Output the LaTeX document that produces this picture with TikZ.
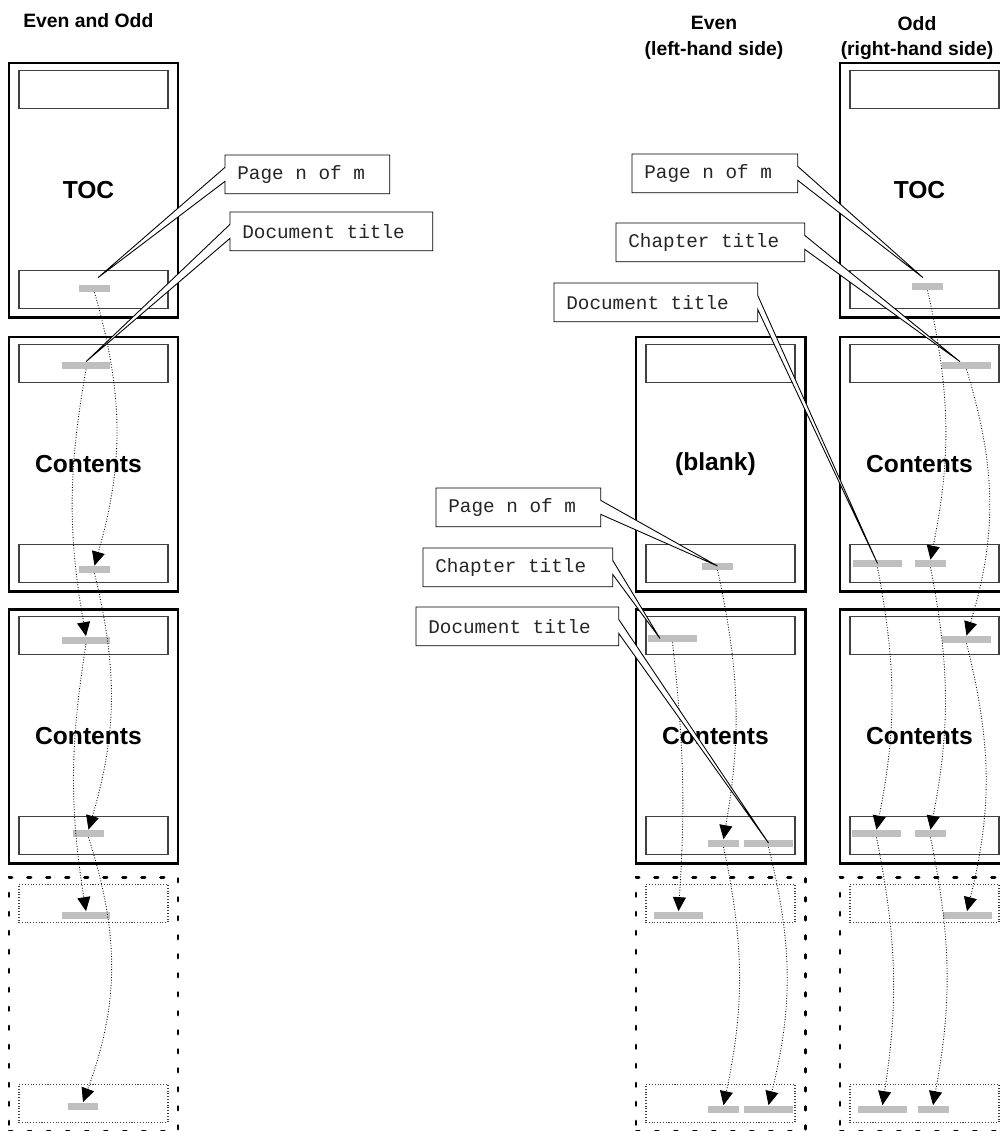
\documentclass[tikz,border=0pt]{standalone}
\usepackage{fontspec}
\setsansfont{Liberation Sans}
\setmonofont{Liberation Mono}
\usepackage{tikz}
\usetikzlibrary{
  positioning,
  arrows.meta,
  calc
}
\newcommand{\callfont}{\ttfamily\fontsize{11}{13}\selectfont\spaceskip=0.6em\relax}
\tikzset{
  >=Latex,
  page/.style={draw,line width=1.7pt,minimum width=33.8mm,minimum height=50.8mm,inner sep=0pt},
  pagedash/.style={page,line cap=round,dash pattern=on 0.7mm off 3.1mm},
  pagelabel/.style={font=\sffamily\bfseries\fontsize{14}{16}\selectfont,inner sep=0pt},
  hdrbox/.style={draw=black!75,line width=0.6pt,minimum width=29.8mm,minimum height=7.6mm,inner sep=0pt},
  hdrdot/.style={hdrbox,densely dotted},
  bar/.style={fill=black!25,inner sep=0pt,minimum height=1.4mm,minimum width=#1*0.2mm},
  flowarrow/.style={densely dotted,line width=0.5pt,-{Triangle[length=2.8mm,width=2.6mm]}},
  callbox/.style={fill=white,anchor=north west,font=\callfont,text=black!85,
    execute at begin node={\hbox to #1\bgroup},execute at end node={\hfil\egroup},
    inner xsep=2.4mm,inner ysep=0pt,minimum height=7.6mm},
  callline/.style={draw,line width=0.5pt,line join=miter},
  heading/.style={font=\sffamily\bfseries\fontsize{11}{14.6}\selectfont,align=center,inner sep=0pt}
}

\begin{document}
\begin{tikzpicture}[x=0.2mm,y=-0.2mm]
    \useasboundingbox (0,0) rectangle (1000,1131);
    \clip (0,0) rectangle (1000,1131);

    % Titulos de las columnas
    \node[heading,anchor=base west] (titAmbas) at (23,27) {Even and Odd};
    \node[heading] (titPar) at (714,38) {Even\\(left-hand side)};
    \node[heading] (titImpar) at (917,38) {Odd\\(right-hand side)};

    % Paginas (borde grueso)
    \foreach \n/\x/\y/\t in {L1/93.5/190/TOC, L2/93.5/464/Contents, L3/93.5/736/Contents,
        E1/720.5/464/(blank), E2/720.5/736/Contents,
        O1/924.5/190/TOC, O2/924.5/464/Contents, O3/924.5/736/Contents} {
      \node[page] (\n) at (\x,\y) {};
      \node[pagelabel] (\n-lbl) at ([xshift=-1mm]\n.center) {\t};
      \node[hdrbox] (\n-hd) at ($(\n.north)+(0,28)$) {};
      \node[hdrbox] (\n-ft) at ($(\n.south)+(0,-29)$) {};
    }

    % Paginas siguientes (punteadas)
    \foreach \n/\x in {L4/93.5, E3/720.5, O4/924.5} {
      \node[pagedash] (\n) at (\x,1004) {};
      \node[hdrdot] (\n-hd) at ($(\n.north)+(0,28)$) {};
      \node[hdrdot] (\n-ft) at ($(\n.south)+(0,-29)$) {};
    }

    % Barras grises (titulos y numeros de pagina)
    \foreach \n/\x/\y/\w in {L1f/94.5/288.5/31, L2h/86/365.5/48, L2f/94.5/569.5/31,
        L3h/86/640/48, L3f/88.5/833.5/31, L4h/86/915/48, L4f/83/1106/30,
        E1f/717.5/566/31, E2h/672.5/638.5/49, E2fa/723.5/843/31, E2fb/768.5/843/49,
        E3h/678.5/915/49, E3fa/723.5/1109/31, E3fb/768.5/1109/49,
        O1f/927.5/286.5/31, O2h/966.5/365.5/49, O2fa/877.5/563.5/49, O2fb/930.5/563.5/31,
        O3h/966.5/639.5/49, O3fa/876.5/833.5/49, O3fb/930.5/833.5/31,
        O4h/967/915/49, O4fa/882.5/1109/49, O4fb/933/1109/31}
      \node[bar=\w] (\n) at (\x,\y) {};

    % Flujo de una pagina a la siguiente
    \foreach \a/\b/\s in {L1f/L2f/16, L2h/L3h/-10, L2f/L3f/15, L3h/L4h/-9, L3f/L4f/19,
        E1f/E2fa/11, E2h/E3h/5, E2fa/E3fa/12, E2fb/E3fb/14,
        O1f/O2fb/12, O2h/O3h/17, O2fa/O3fa/11, O2fb/O3fb/11,
        O3h/O4h/14, O3fa/O4fa/10, O3fb/O4fb/11}
      \draw[flowarrow] (\a.south) to[bend left=\s] (\b.north);

    % Puntas de las llamadas
    \coordinate (tipL1) at ($(L1f.north)+(3.5,-7)$);
    \coordinate (tipL2) at (L2h.north);
    \coordinate (tipO1) at ($(O1f.north)+(-4.5,-5)$);
    \coordinate (tipO2) at ($(O2h.north)+(-6.5,0)$);
    \coordinate (tipO3) at (O2fa.center);
    \coordinate (tipE1) at (E1f.center);
    \coordinate (tipE2) at ($(E2h.center)+(-12.5,0)$);
    \coordinate (tipE3) at (E2fb.center);

    % Llamadas
    \node[callbox=28mm] (cL1) at (225,155) {Page n of m};
    \node[callbox=35.6mm] (cL2) at (230,212) {Document title};
    \node[callbox=28.2mm] (cO1) at (632,154) {Page n of m};
    \node[callbox=32.8mm] (cO2) at (616,223) {Chapter title};
    \node[callbox=35.8mm] (cO3) at (554,283) {Document title};
    \node[callbox=28mm] (cE1) at (436,488) {Page n of m};
    \node[callbox=33mm] (cE2) at (423,548) {Chapter title};
    \node[callbox=35.6mm] (cE3) at (416,607) {Document title};

    \foreach \c/\s/\o/\t in {cL1/west/east/tipL1, cL2/west/east/tipL2,
        cO1/east/west/tipO1, cO2/east/west/tipO2, cO3/east/west/tipO3,
        cE1/east/west/tipE1, cE2/east/west/tipE2, cE3/east/west/tipE3} {
      \fill[white] ($(\c.\s)+(0,-7)$) -- (\t) -- ($(\c.\s)+(0,7)$) -- cycle;
      \draw[callline] (\c.north \o) -- (\c.north \s) -- ($(\c.\s)+(0,-7)$) -- (\t)
        -- ($(\c.\s)+(0,7)$) -- (\c.south \s) -- (\c.south \o) -- cycle;
    }
\end{tikzpicture}
\end{document}
